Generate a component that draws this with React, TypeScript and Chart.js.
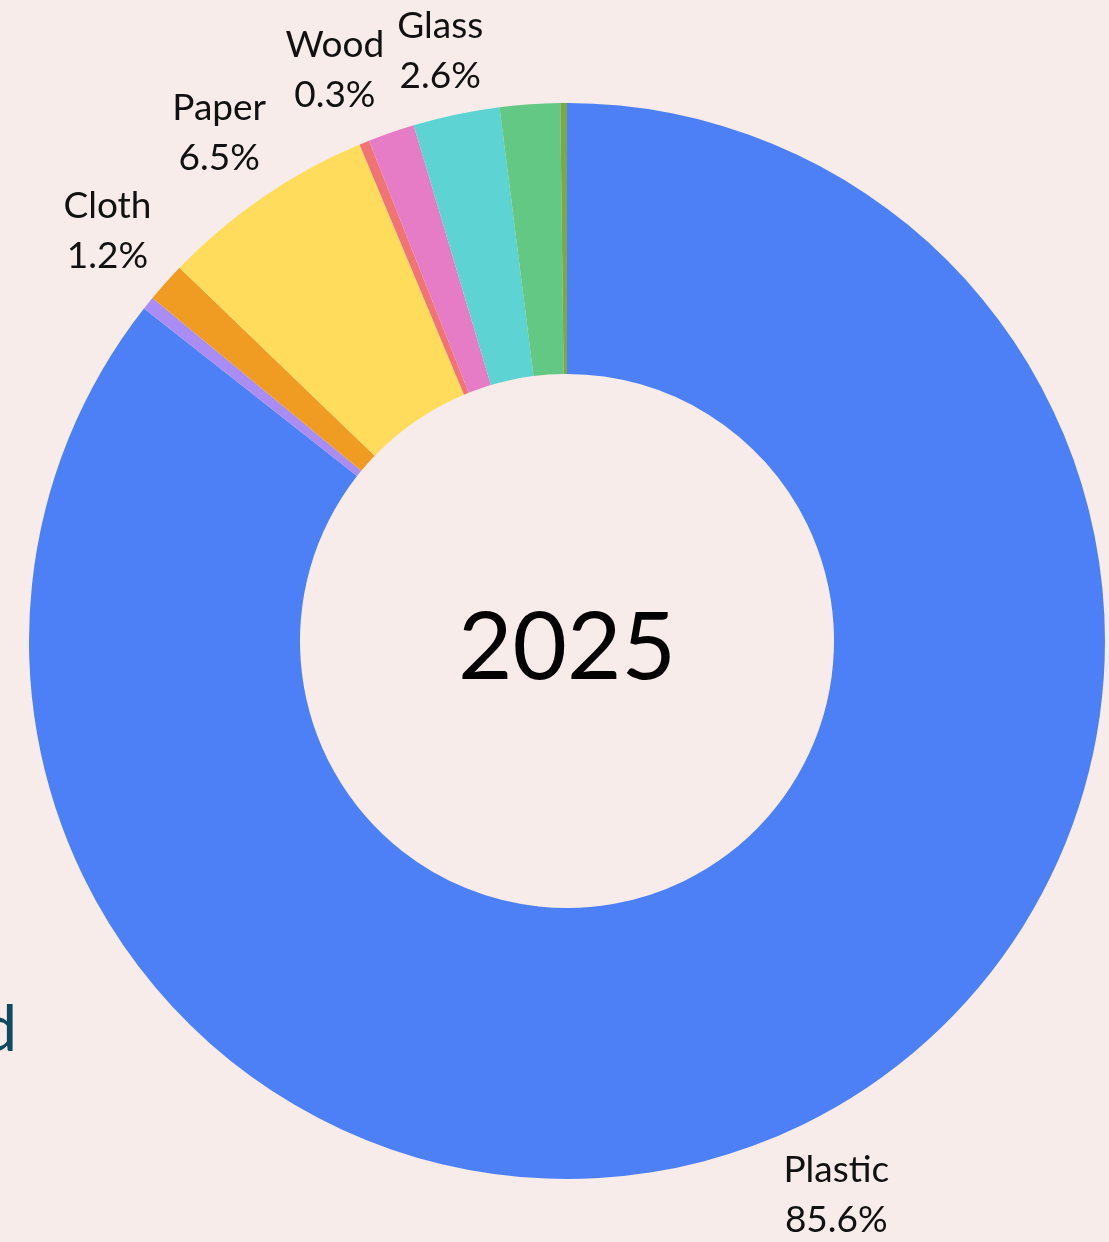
import React, { useEffect, useRef } from "react";
import { Chart, registerables } from "chart.js";

Chart.register(...registerables);

const categories = ["Plastic", "Rubber", "Cloth", "Paper", "Wood", "Metal", "Glass", "Foam", "Other"];
const shares = [85.6, 0.4, 1.2, 6.5, 0.3, 1.4, 2.6, 1.8, 0.2];
const labelled = ["Plastic", "Cloth", "Paper", "Wood", "Glass"];
const colors = ["#4d80f6", "#a98cf5", "#f09c22", "#ffdc5c", "#f07474", "#e77cc6", "#5dd3d3", "#62c883", "#7aaa48"];
const centerText = "2025";
const sideText = "d";

const FONT = "Lato, 'Open Sans', sans-serif";

const labelPlugin = {
  id: "labelPlugin",
  afterDraw(chart: any) {
    const ctx = chart.ctx;
    const meta = chart.getDatasetMeta(0);
    ctx.save();
    ctx.fillStyle = "#111";
    ctx.textAlign = "center";
    ctx.textBaseline = "middle";
    meta.data.forEach((arc: any, i: number) => {
      const name = categories[i];
      if (!labelled.includes(name)) return;
      const mid = (arc.startAngle + arc.endAngle) / 2;
      const r = arc.outerRadius + 78;
      const x = arc.x + Math.cos(mid) * r;
      let y = arc.y + Math.sin(mid) * r;
      y = Math.max(y, 51);
      ctx.font = `37px ${FONT}`;
      ctx.fillText(name, x, y - 25);
      ctx.fillText(shares[i].toFixed(1) + "%", x, y + 25);
    });
    const a0 = meta.data[0];
    ctx.font = `94px ${FONT}`;
    ctx.fillStyle = "#000";
    ctx.fillText(centerText, a0.x, a0.y + 8);
    ctx.textAlign = "right";
    ctx.textBaseline = "alphabetic";
    ctx.fillStyle = "#0f4a62";
    ctx.font = `64px ${FONT}`;
    ctx.fillText(sideText, 17, 1051);
    ctx.restore();
  },
};

export default function App() {
  const ref = useRef<HTMLCanvasElement | null>(null);
  useEffect(() => {
    document.body.style.margin = "0";
    const chart = new Chart(ref.current as HTMLCanvasElement, {
      type: "doughnut",
      data: {
        labels: categories,
        datasets: [
          {
            data: shares,
            backgroundColor: colors,
            borderWidth: 0,
          },
        ],
      },
      options: {
        animation: false,
        responsive: false,
        radius: 538,
        cutout: 269,
        layout: { padding: { left: 25, top: 40, right: 0, bottom: 0 } },
        plugins: { legend: { display: false }, tooltip: { enabled: false } },
      },
      plugins: [labelPlugin],
    });
    return () => chart.destroy();
  }, []);
  return (
    <div style={{ position: "absolute", left: 0, top: 0, width: 1109, height: 1242, background: "#f8eceb", overflow: "hidden" }}>
      <canvas ref={ref} width={1109} height={1242} style={{ width: 1109, height: 1242, display: "block" }} />
    </div>
  );
}
